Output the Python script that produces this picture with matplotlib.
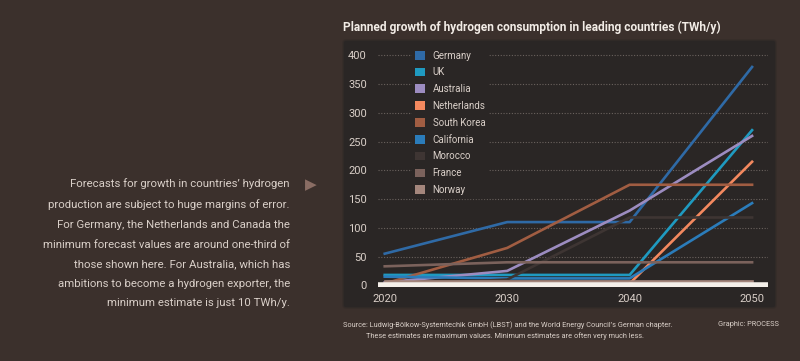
import matplotlib.pyplot as plt
from matplotlib.patches import FancyBboxPatch, Patch
import numpy as np

years = [2020, 2030, 2040, 2050]
countries = ['Germany', 'UK', 'Australia', 'Netherlands', 'South Korea',
             'California', 'Morocco', 'France', 'Norway']
germany = [55, 110, 110, 380]
uk = [18, 18, 18, 270]
australia = [5, 25, 130, 260]
netherlands = [np.nan, np.nan, 3, 215]
south_korea = [3, 65, 175, 175]
california = [15, 12, 12, 143]
morocco = [0, 10, 118, 118]
france = [33, 40, 40, 40]
norway = [7, 7, 7, 7]
series = [germany, uk, australia, netherlands, south_korea,
          california, morocco, france, norway]
colors = ['#2f6aa6', '#1f9ac0', '#9c8cc0', '#f4895f', '#a15d42',
          '#2b7cba', '#3e3533', '#7b625c', '#a4867c']

body = ("Forecasts for growth in countries\u2019 hydrogen\n"
        "production are subject to huge margins of error.\n"
        "For Germany, the Netherlands and Canada the\n"
        "minimum forecast values are around one-third of\n"
        "those shown here. For Australia, which has\n"
        "ambitions to become a hydrogen exporter, the\n"
        "minimum estimate is just 10 TWh/y.")

plt.rcParams['font.family'] = ['Roboto', 'DejaVu Sans']
bg = '#3b302c'
panel = '#2a2625'
txt = '#d9cfc8'

fig = plt.figure(figsize=(8, 3.61), dpi=100, facecolor=bg)

# background layer with the dark chart panel
bgax = fig.add_axes([0, 0, 1, 1], zorder=-1)
bgax.set_xlim(0, 800)
bgax.set_ylim(361, 0)
bgax.axis('off')
bgax.add_patch(FancyBboxPatch((343, 40), 433, 268, boxstyle='round,pad=0,rounding_size=3',
                              facecolor=panel, edgecolor='#342c29', lw=1))

ax = fig.add_axes([378 / 800, 1 - 287 / 361, 390 / 800, 243 / 361])
ax.patch.set_alpha(0)
for name, vals, c in zip(countries, series, colors):
    ax.plot(years, vals, color=c, lw=1.9, label=name, zorder=3)
ax.axhline(0, color='#f4efe9', lw=4, zorder=4)

ax.set_xlim(2019.45, 2051.3)
ax.set_ylim(-3, 420)
ax.set_yticks(range(0, 401, 50))
ax.set_xticks(years)
ax.grid(axis='y', color='#6a625e', ls=(0, (1, 1.5)), lw=0.8)
ax.set_axisbelow(True)
for s in ax.spines.values():
    s.set_visible(False)
ax.tick_params(length=0, colors=txt, labelsize=8, pad=5)
ax.tick_params(axis='y', pad=8)

handles = [Patch(facecolor=c, edgecolor='none') for c in colors]
leg = ax.legend(handles, countries, loc='upper left', bbox_to_anchor=(0.075, 1.005),
                frameon=True, facecolor=panel, edgecolor=panel, framealpha=1,
                fontsize=7, labelcolor=txt, handlelength=1.0, handleheight=1.0,
                handletextpad=0.8, labelspacing=0.7, borderpad=0.3)
leg.set_zorder(5)

fig.text(343 / 800, 1 - 27 / 361, 'Planned growth of hydrogen consumption in leading countries (TWh/y)',
         color='#f2ece6', fontsize=8.6, fontweight='bold', va='center', ha='left')
fig.text(290 / 800, 1 - 178 / 361, body, color=txt, fontsize=8.2, ha='right', va='top',
         linespacing=2.2)
fig.text(311 / 800, 1 - 185 / 361, '\u25b6', color='#8a6d64', fontsize=11,
         ha='center', va='center', family='DejaVu Sans')
fig.text(343 / 800, 1 - 325 / 361,
         "Source: Ludwig-B\u00f6lkow-Systemtechik GmbH (LBST) and the World Energy Council\u2019s German chapter.",
         color=txt, fontsize=5.3, ha='left', va='center')
fig.text(366 / 800, 1 - 336 / 361,
         "These estimates are maximum values. Minimum estimates are often very much less.",
         color=txt, fontsize=5.3, ha='left', va='center')
fig.text(779 / 800, 1 - 325 / 361, 'Graphic: PROCESS', color=txt, fontsize=5.3,
         ha='right', va='center')

fig.savefig('out.png', dpi=100, facecolor=bg)
